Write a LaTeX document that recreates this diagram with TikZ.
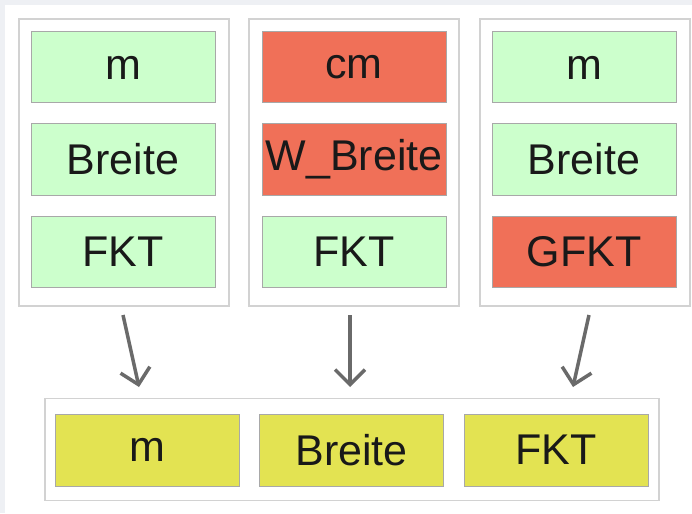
\documentclass[tikz,border=0pt]{standalone}
\usepackage{fontspec}
\setmainfont{Liberation Sans}
\usetikzlibrary{arrows.meta}
\definecolor{bggray}{HTML}{EEF0F4}
\definecolor{okgreen}{HTML}{CCFFCC}
\definecolor{badred}{HTML}{F07058}
\definecolor{resyellow}{HTML}{E3E352}
\definecolor{panelline}{HTML}{D2D2D2}
\definecolor{boxline}{HTML}{A8A8A8}
\definecolor{arrowgray}{HTML}{6A6A6A}

\begin{document}
\begin{tikzpicture}[x=1pt, y=-1pt, panel/.style={draw=panelline, line width=1.5pt, fill=white, minimum width=210pt, minimum height=287pt}, field/.style={draw=boxline, line width=1pt, minimum width=184pt, minimum height=71pt, inner sep=0pt, font=\fontsize{43}{50}\selectfont, text=black!90}, ok/.style={field, fill=okgreen}, bad/.style={field, fill=badred}, res/.style={field, fill=resyellow, minimum height=72pt}, flow/.style={draw=arrowgray, line width=3.5pt, -{Straight Barb[length=15pt, width=30pt]}}]
\fill[bggray] (0,0) rectangle (692,513);
\fill[white] (5,5) rectangle (692,513);

% first variant
\node[panel] (P1) at (124,162.5) {};
\node[ok] (m1) at (123,67.5) {m};
\node[ok] (breite1) at (123,159.5) {Breite};
\node[ok] (fkt1) at (123,251.5) {FKT};

% second variant
\node[panel] (P2) at (354,162.5) {};
\node[bad] (cm2) at (354,67.5) {cm};
\node[bad] (wbreite2) at (354,159.5) {W\_Breite};
\node[ok] (fkt2) at (354,251.5) {FKT};

% third variant
\node[panel] (P3) at (585,162.5) {};
\node[ok] (m3) at (584,67.5) {m};
\node[ok] (breite3) at (584,159.5) {Breite};
\node[bad] (gfkt3) at (584,251.5) {GFKT};

% result
\node[panel, minimum width=614pt, minimum height=102pt] (R) at (352,449.5) {};
\node[res] (mR) at (147,450) {m};
\node[res] (breiteR) at (351.5,450) {Breite};
\node[res] (fktR) at (556,450) {FKT};

\coordinate (a1s) at (123,315);
\coordinate (a1e) at (139,387);
\coordinate (a2s) at (350,315);
\coordinate (a2e) at (350,387);
\coordinate (a3s) at (589,315);
\coordinate (a3e) at (573,387);

\draw[flow] (a1s) -- (a1e);
\draw[flow] (a2s) -- (a2e);
\draw[flow] (a3s) -- (a3e);

\end{tikzpicture}
\end{document}
